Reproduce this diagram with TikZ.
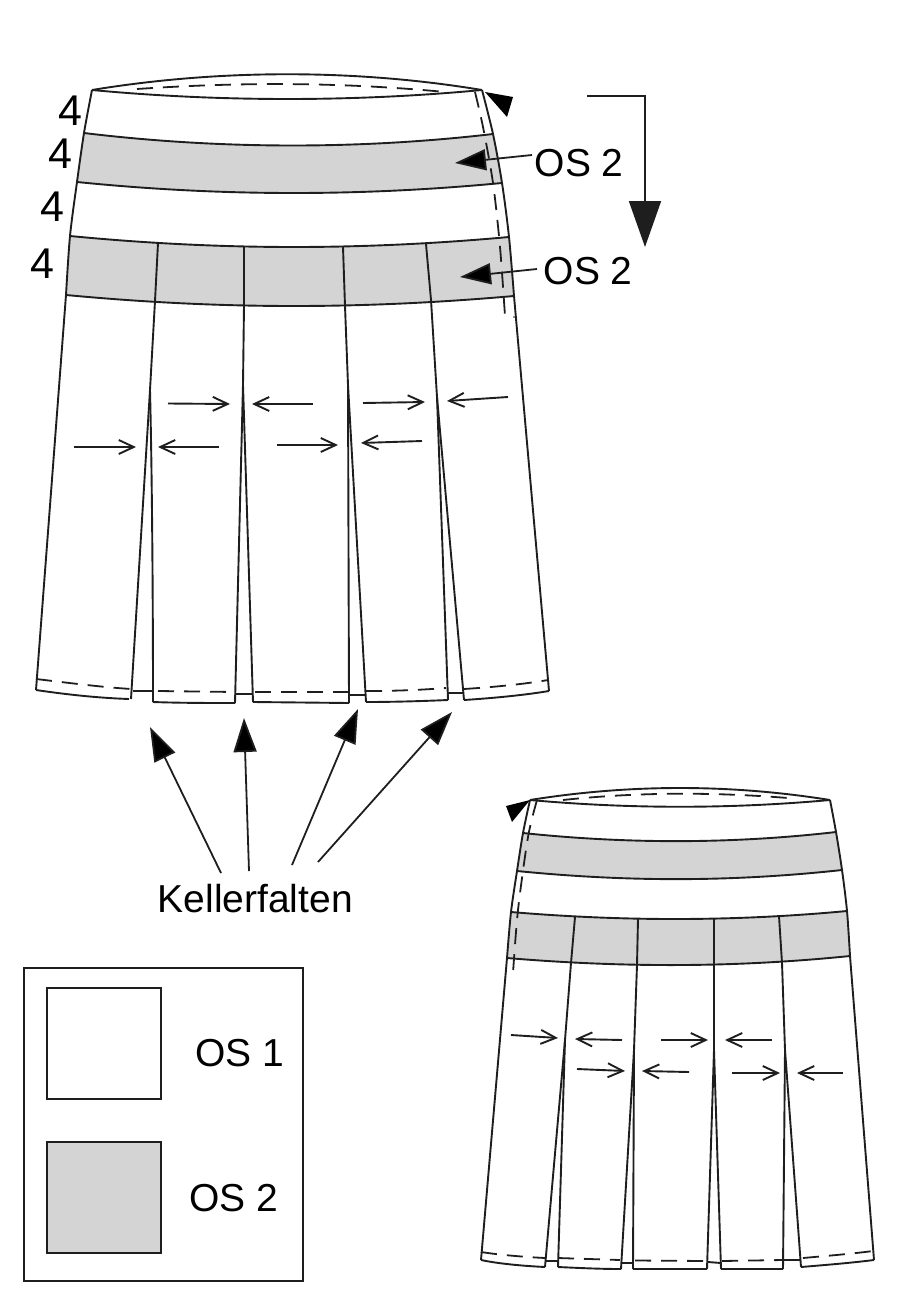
\documentclass[tikz,border=0pt]{standalone}
\usepackage{fontspec}
\setmainfont{Liberation Sans}
\usetikzlibrary{arrows.meta}
\definecolor{lineink}{HTML}{1E1E1E}
\definecolor{bandgray}{HTML}{D4D4D4}
\newcommand\smallarrow[3]{\coordinate (#1s) at (#2); \coordinate (#1e) at (#3); \draw[smallarr] (#1s) -- (#1e);}
\tikzset{
  outline/.style={draw=lineink,line width=1.9pt,line join=round},
  seam/.style={draw=lineink,line width=1.8pt,dash pattern=on 16pt off 10pt},
  band/.style={fill=bandgray},
  smallarr/.style={draw=lineink,line width=1.9pt,-{Straight Barb[length=15pt,width=14pt,line width=1.9pt]}},
  bigarr/.style={draw=lineink,line width=1.8pt,-{Triangle[length=34pt,width=23pt,fill=black]}},
  midarr/.style={draw=lineink,line width=1.8pt,-{Triangle[length=31pt,width=21pt,fill=black]}},
  hugearr/.style={draw=lineink,line width=1.8pt,-{Triangle[length=46pt,width=32pt,fill=lineink]}},
  label/.style={anchor=base west,inner sep=0pt,font=\fontsize{39}{41}\selectfont},
  digit/.style={anchor=base west,inner sep=0pt,font=\fontsize{43}{45}\selectfont},
  legendbox/.style={draw=lineink,line width=1.9pt,inner sep=0pt,outer sep=0pt,anchor=north west},
}
\begin{document}
\begin{tikzpicture}[x=1pt,y=-1pt]
\useasboundingbox (0,0) rectangle (901,1300);
% ---------- large skirt: bands
\path[band] (84,133) .. controls (220,149.5) and (360,149.5) .. (493,134)
  -- (502,183) .. controls (360,196.5) and (220,196.5) .. (77,182) -- cycle;
\path[band] (70,236) .. controls (220,250.5) and (360,250.5) .. (509,237)
  -- (514,296) .. controls (360,309.5) and (220,309.5) .. (66,295) -- cycle;
% waist
\draw[outline] (92,90) .. controls (220,69) and (355,69) .. (482,90);
\draw[outline] (92,90) .. controls (220,102) and (355,102) .. (482,90);
\draw[seam] (137,89) .. controls (240,82) and (340,82) .. (445,92);
% band edges
\draw[outline] (84,133) .. controls (220,149.5) and (360,149.5) .. (493,134);
\draw[outline] (77,182) .. controls (220,196.5) and (360,196.5) .. (502,183);
\draw[outline] (70,236) .. controls (220,250.5) and (360,250.5) .. (509,237);
\draw[outline] (66,295) .. controls (220,309.5) and (360,309.5) .. (514,296);
% sides
\draw[outline] plot[smooth] coordinates {(92,90) (84,133) (77,182) (70,236) (66,295)} -- (36,690);
\draw[outline] plot[smooth] coordinates {(482,90) (493,134) (502,183) (509,237) (514,296)} -- (549,691);
\draw[seam] plot[smooth] coordinates {(475,92) (483,127) (493,183) (500,247) (505,316)};
\fill[lineink] (514,317) circle (0.8pt);
% pleats
\draw[outline] (158,243) -- (155,301) -- (150,390) -- (131,699);
\draw[outline] (150,390) .. controls (152,470) and (153,600) .. (153,702);
\draw[outline] (244,247) -- (244,305) -- (243,385) -- (235,703);
\draw[outline] (243,385) -- (253,702);
\draw[outline] (343,247) -- (345,306) -- (348,385) -- (349,703);
\draw[outline] (348,385) -- (366,702);
\draw[outline] (426,244) -- (431,300) -- (437,397) -- (448,700);
\draw[outline] (437,397) -- (464,700);
% hems
\draw[outline] (36,690) .. controls (70,695) and (100,698) .. (129,699);
\draw[outline] (153,702) .. controls (180,703) and (210,703) .. (235,703);
\draw[outline] (253,702) -- (349,703);
\draw[outline] (366,702) .. controls (395,702) and (425,701) .. (448,700);
\draw[outline] (464,700) .. controls (495,698) and (525,695) .. (549,691);
\draw[outline] (133,691) -- (153,691);
\draw[outline] (236,694) -- (252,694);
\draw[outline] (349,695) -- (365,695);
\draw[outline] (448,693) -- (464,693);
\draw[seam] (36,679) .. controls (70,683) and (100,687) .. (131,689);
\draw[seam] (158,691) -- (235,692);
\draw[seam] (255,692) -- (348,692);
\draw[seam] (366,691) .. controls (395,691) and (420,690) .. (446,688);
\draw[seam] (464,689) .. controls (495,687) and (525,684) .. (548,680);
% small arrows, large skirt
\smallarrow{a}{168,403.5}{230,404}
\smallarrow{b}{313,404}{252,404}
\smallarrow{c}{363,403}{425,402}
\smallarrow{d}{508,397}{447,401}
\smallarrow{e}{74,447}{136,447}
\smallarrow{f}{219,447}{158,447}
\smallarrow{g}{277,445}{338,445}
\smallarrow{h}{422,441}{361,443}
% big arrows
\node[label] (kf) at (157.5,912) {Kellerfalten};
\coordinate (k1t) at (221,873); \coordinate (k1h) at (150,727);
\coordinate (k2t) at (249,871); \coordinate (k2h) at (244,718);
\coordinate (k3t) at (292,865); \coordinate (k3h) at (358,709);
\coordinate (k4t) at (318,862); \coordinate (k4h) at (452,712);
\draw[bigarr] (k1t) -- (k1h);
\draw[bigarr] (k2t) -- (k2h);
\draw[bigarr] (k3t) -- (k3h);
\draw[bigarr] (k4t) -- (k4h);
% labels with arrows
\node[label] (os2a) at (534.5,177) {OS 2};
\node[label] (os2b) at (543.5,284) {OS 2};
\coordinate (oa) at (532,155); \coordinate (oah) at (455,163);
\coordinate (ob) at (537,269); \coordinate (obh) at (460,277);
\draw[midarr] (oa) -- (oah);
\draw[midarr] (ob) -- (obh);
% direction arrow
\coordinate (ds) at (587,96); \coordinate (dc) at (645,96); \coordinate (de) at (645,247);
\draw[hugearr] (ds) -- (dc) -- (de);
\fill[black] (485,92) -- (513,97) -- (507,117) -- cycle;
% digits
\node[digit] (d1) at (58,126) {4};
\node[digit] (d2) at (48,169) {4};
\node[digit] (d3) at (40,221) {4};
\node[digit] (d4) at (30,278) {4};
% ---------- legend
\node[legendbox,minimum width=279pt,minimum height=313pt] (legend) at (24,968) {};
\node[legendbox,minimum width=114pt,minimum height=111pt] (sq1) at (47,988) {};
\node[legendbox,fill=bandgray,minimum width=114pt,minimum height=111pt] (sq2) at (47,1142) {};
\node[label] (l1) at (195,1066) {OS 1};
\node[label] (l2) at (189,1211) {OS 2};
% ---------- small skirt: bands
\path[band] (523,833) .. controls (627,844) and (732,844) .. (836,832)
  -- (842,870) .. controls (732,882) and (627,882) .. (517,871) -- cycle;
\path[band] (511,912) .. controls (623,921.5) and (735,921.5) .. (847,911)
  -- (850,956) .. controls (735,967.7) and (623,967.7) .. (507,958) -- cycle;
\draw[outline] (530,800) .. controls (630,784) and (730,784) .. (830,800);
\draw[outline] (530,800) .. controls (630,809) and (730,809) .. (830,800);
\draw[seam] (563,800) .. controls (638,792) and (713,792) .. (788,798);
\draw[outline] (523,833) .. controls (627,844) and (732,844) .. (836,832);
\draw[outline] (517,871) .. controls (627,882) and (732,882) .. (842,870);
\draw[outline] (511,912) .. controls (623,921.5) and (735,921.5) .. (847,911);
\draw[outline] (507,958) .. controls (623,967.7) and (735,967.7) .. (850,956);
\draw[outline] plot[smooth] coordinates {(530,800) (523,833) (517,871) (511,912) (507,958)} -- (481,1260);
\draw[outline] plot[smooth] coordinates {(830,800) (836,832) (842,870) (847,911) (850,956)} -- (874,1260);
\draw[seam] plot[smooth] coordinates {(537,800) (528,837) (518,910) (513,973)};
\fill[black] (530,800) -- (506,806) -- (512,822) -- cycle;
% pleats
\draw[outline] (575,917) -- (571,963) -- (565,1040) -- (545,1267);
\draw[outline] (565,1040) -- (558,1267);
\draw[outline] (638,919) -- (637,965) -- (634,1050) -- (621,1269);
\draw[outline] (634,1050) -- (633,1269);
\draw[outline] (714,919) -- (714,965) -- (714,1050) -- (707,1269);
\draw[outline] (714,1050) -- (721,1269);
\draw[outline] (779,916) -- (782,963) -- (785,1050) -- (783,1269);
\draw[outline] (785,1050) -- (801,1267);
% hems
\draw[outline] (481,1260) .. controls (500,1264) and (525,1266) .. (545,1267);
\draw[outline] (558,1267) .. controls (580,1268) and (600,1269) .. (621,1269);
\draw[outline] (633,1269) -- (707,1269);
\draw[outline] (721,1269) -- (783,1269);
\draw[outline] (801,1267) .. controls (825,1265) and (850,1263) .. (874,1260);
\draw[outline] (546,1261) -- (558,1261);
\draw[outline] (621,1263) -- (633,1263);
\draw[outline] (708,1262) -- (721,1263);
\draw[outline] (783,1260) -- (800,1260);
\draw[seam] (481,1252) .. controls (500,1255) and (525,1257) .. (545,1258);
\draw[seam] (558,1258) -- (620,1260);
\draw[seam] (635,1260.5) -- (707,1261);
\draw[seam] (722,1261) -- (783,1260);
\draw[seam] (803,1258) .. controls (825,1256) and (850,1254) .. (873,1251);
% small arrows
\smallarrow{p}{511,1035}{558,1038}
\smallarrow{q}{622,1040}{575,1039}
\smallarrow{r}{661,1040}{708,1040}
\smallarrow{s}{772,1040}{725,1040}
\smallarrow{t}{577,1069}{625,1071}
\smallarrow{u}{689,1072}{642,1071}
\smallarrow{v}{732,1073}{780,1073}
\smallarrow{w}{843,1073}{797,1073}
\end{tikzpicture}
\end{document}
